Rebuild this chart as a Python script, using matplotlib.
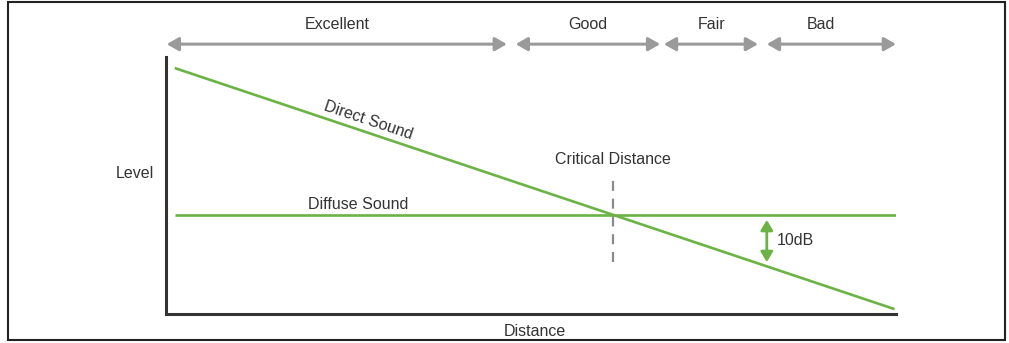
import matplotlib
matplotlib.use("Agg")
import matplotlib.pyplot as plt
from matplotlib.patches import FancyArrowPatch, Rectangle
import numpy as np

plt.rcParams['font.family'] = ['Liberation Sans', 'DejaVu Sans']

# ---- data ----
quality_labels = ['Excellent', 'Good', 'Fair', 'Bad']
quality_starts = [0.1, 47.9, 68.2, 82.3]
quality_ends = [46.7, 67.7, 81.1, 100.0]
quality_label_x = [23.4, 57.8, 74.7, 89.7]

direct_x = [1.2, 99.8]
direct_y = [95.7, 1.9]
diffuse_x = [1.2, 100.0]
diffuse_y = [38.5, 38.5]

critical_x = 61.2
critical_y = [20.2, 52.1]

db_arrow_x = 82.3
db_arrow_y = [20.2, 36.6]
db_label = '10dB'

GREEN = '#6ab344'
GRAY = '#9a9a9a'
TXT = '#333333'
FS = 11.5

fig = plt.figure(figsize=(10.09, 3.43), dpi=100)
ax = fig.add_axes([166/1009, 29/343, 730/1009, 257/343])
ax.set_xlim(0, 100)
ax.set_ylim(0, 100)
ax.set_xticks([])
ax.set_yticks([])
for s in ['top', 'right']:
    ax.spines[s].set_visible(False)
for s in ['left', 'bottom']:
    ax.spines[s].set_linewidth(2.2)
    ax.spines[s].set_color('#333333')
ax.patch.set_alpha(0)

# outer frame
fig.patches.append(Rectangle((8/1009, 3/343), 997/1009, 338/343, transform=fig.transFigure,
                             fill=False, edgecolor='#222222', linewidth=1.5))

# lines
ax.plot(direct_x, direct_y, color=GREEN, lw=1.9, solid_capstyle='butt')
ax.plot(diffuse_x, diffuse_y, color=GREEN, lw=1.9, solid_capstyle='butt')
ax.plot([critical_x, critical_x], critical_y, color='#8a8a8a', lw=1.6, dashes=(4.5, 3.5))

# 10 dB arrow
ax.add_patch(FancyArrowPatch((db_arrow_x, db_arrow_y[0]), (db_arrow_x, db_arrow_y[1]),
                             arrowstyle='<|-|>,head_length=6,head_width=3.6', mutation_scale=1,
                             color=GREEN, lw=2.0, shrinkA=0, shrinkB=0))
ax.text(db_arrow_x + 1.3, np.mean(db_arrow_y) + 0.2, db_label, fontsize=FS, color=TXT,
        ha='left', va='center')

# top quality arrows
for lab, x0, x1, lx in zip(quality_labels, quality_starts, quality_ends, quality_label_x):
    ax.add_patch(FancyArrowPatch((x0, 105.0), (x1, 105.0),
                                 arrowstyle='<|-|>,head_length=7,head_width=4', mutation_scale=1,
                                 color=GRAY, lw=2.2, shrinkA=0, shrinkB=0, clip_on=False))
    ax.text(lx, 112.8, lab, fontsize=FS, color=TXT, ha='center', va='center', clip_on=False)

# labels
ax.text(61.2, 60.3, 'Critical Distance', fontsize=FS, color=TXT, ha='center', va='center')
ax.text(26.3, 42.8, 'Diffuse Sound', fontsize=FS, color=TXT, ha='center', va='center')

fig.canvas.draw()
p0 = ax.transData.transform((direct_x[0], direct_y[0]))
p1 = ax.transData.transform((direct_x[1], direct_y[1]))
ang = np.degrees(np.arctan2(p1[1] - p0[1], p1[0] - p0[0]))
ax.text(27.7, 75.5, 'Direct Sound', fontsize=FS, color=TXT, ha='center', va='center',
        rotation=ang, rotation_mode='anchor')

ax.text(-4.2, 54.5, 'Level', fontsize=FS, color=TXT, ha='center', va='center', clip_on=False)
ax.text(50.5, -7.0, 'Distance', fontsize=FS, color=TXT, ha='center', va='center', clip_on=False)

fig.savefig('out.png', dpi=100)
